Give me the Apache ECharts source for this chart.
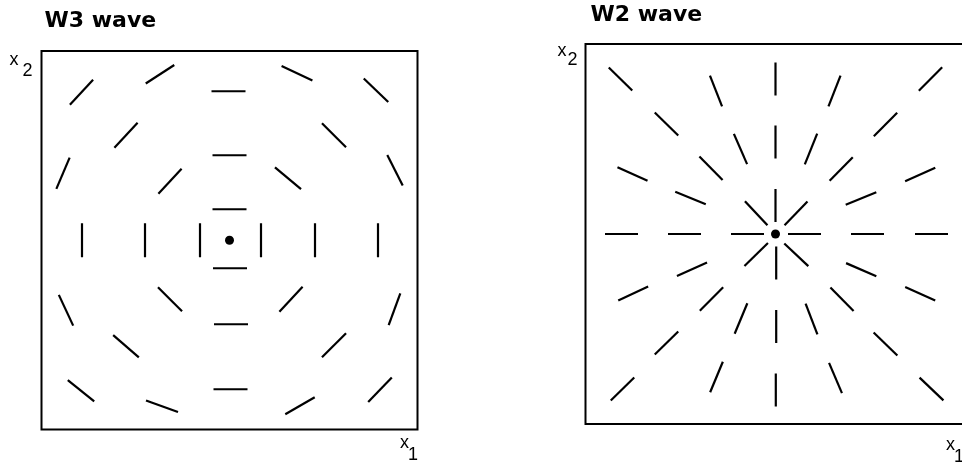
<!DOCTYPE html>
<html>
<head>
<meta charset="utf-8">
<script src="https://cdn.jsdelivr.net/npm/echarts@6/dist/echarts.min.js"></script>
<style>
  html, body { margin: 0; padding: 0; background: #fff; }
  #chart { width: 962px; height: 464px; }
</style>
</head>
<body>
<div id="chart"></div>
<script>
// W3 wave: tangential orientation segments (centre x1, x2, orientation in degrees)
const w3X = [-148, -69.5, -1, 67.5, 146.5, -103.5, 0, 104.5, -166.5, -59.5, 0, 58.5, 165.5,
             -147.5, -84.5, -29.5, 31.5, 85.5, 148.5,
             0.5, -163.5, -59.5, 61.5, 165, 1.5, -103.5, 104.5, -148.5, -67.5, 1, 70.5, 150.5];
const w3Y = [148, 166, 149, 167, 150, 105, 85, 105, 67, 59, 31, 62, 70,
             0, 0, 0, 0, 0, 0,
             -28, -70, -59, -59, -69, -84, -106, -105, -150.5, -166, -149, -165.5, -149.5];
const w3Angle = [47, 33, 0, -25, -44, 47, 0, -45, 67, 47, 0, -40, -63,
                 90, 90, 90, 90, 90, 90,
                 0, -65, -45, 47, 70, 0, -41, 45, -39, -20, 0, 30, 46];

// W2 wave: radial orientation segments
const w2X = [-155, -59.5, 0, 59, 155, -109, 0, 110, -35, 35.5, -143, -64.5, 65.7, 144.7,
             -85, 0, -19.3, 20.5, 85.5,
             -154, -91, -28, 29, 92, 156,
             -19.3, 20.8, 0.7, -83.5, 85.7, -142.3, -64, 66.5, 144.7, -34.5, 36, 0.7,
             -109, 110, -153, -59, 0.3, 60, 156];
const w2Y = [155, 143, 155, 143, 155, 110, 92, 109.5, 85, 85, 60, 65.7, 65, 59.5,
             36, 28.5, 20.8, 20.7, 35.5,
             0, 0, 0, 0, 0, 0,
             -20.5, -20.8, -29, -35.3, -35.7, -59.5, -65, -65.3, -59.7, -84.5, -85, -92.5,
             -109, -110, -155, -143, -156, -144, -155];
const w2Angle = [-44.6, -68.5, 90, 68.6, 45, -44.6, 90, 45, -66.4, 68, -24.4, -45.4, 45.4, 23.9,
                 -22.2, 90, -47, 46, 22,
                 0, 0, 0, 0, 0, 0,
                 44.6, -43.3, 90, 24.2, -23.5, 25, 45, -45.4, -24.4, 67.4, -69, 90,
                 44.6, -44, 44.6, 67.4, 90, -67, -43.7];

// Source point of each wave
const sourceX = [0];
const sourceY = [0];

const segLenW3 = 34;
const segLenW2 = 33;

function zipRows(xs, ys, as) {
  return xs.map((x, i) => [x, ys[i], as[i]]);
}

function segmentRenderer(len) {
  return function (params, api) {
    const x = api.value(0), y = api.value(1);
    const a = api.value(2) * Math.PI / 180;
    const h = len / 2;
    const p1 = api.coord([x - h * Math.cos(a), y - h * Math.sin(a)]);
    const p2 = api.coord([x + h * Math.cos(a), y + h * Math.sin(a)]);
    return {
      type: 'line',
      shape: { x1: p1[0], y1: p1[1], x2: p2[0], y2: p2[1] },
      style: { stroke: '#000', lineWidth: 2.2, lineCap: 'butt' }
    };
  };
}

const labelFont = '18px "Liberation Sans", Arial, sans-serif';
const titleFont = 'bold 22px "DejaVu Sans", sans-serif';

function txt(text, x, y, font) {
  return { type: 'text', x: x, y: y, style: { text: text, font: font, fill: '#000', verticalAlign: 'top' } };
}

const chart = echarts.init(document.getElementById('chart'), null, { renderer: 'canvas' });

const hiddenAxis = (min, max, gi) => ({
  type: 'value', min: min, max: max, gridIndex: gi, show: false, splitLine: { show: false }
});

chart.setOption({
  animation: false,
  backgroundColor: '#fff',
  grid: [
    { left: 41.5, top: 51, width: 376, height: 378.5, show: true, borderColor: '#000', borderWidth: 2,
      backgroundColor: 'transparent', outerBoundsMode: 'none', containLabel: false },
    { left: 585.5, top: 44, width: 380, height: 380, show: true, borderColor: '#000', borderWidth: 2,
      backgroundColor: 'transparent', outerBoundsMode: 'none', containLabel: false }
  ],
  xAxis: [hiddenAxis(-188, 188, 0), hiddenAxis(-190, 190, 1)],
  yAxis: [hiddenAxis(-189.25, 189.25, 0), hiddenAxis(-190, 190, 1)],
  series: [
    {
      type: 'custom', name: 'W3 wave', xAxisIndex: 0, yAxisIndex: 0,
      renderItem: segmentRenderer(segLenW3),
      data: zipRows(w3X, w3Y, w3Angle)
    },
    {
      type: 'custom', name: 'W2 wave', xAxisIndex: 1, yAxisIndex: 1,
      renderItem: segmentRenderer(segLenW2),
      data: zipRows(w2X, w2Y, w2Angle)
    },
    {
      type: 'scatter', xAxisIndex: 0, yAxisIndex: 0, symbolSize: 9,
      itemStyle: { color: '#000', opacity: 1 }, silent: true,
      data: sourceX.map((x, i) => [x, sourceY[i]])
    },
    {
      type: 'scatter', xAxisIndex: 1, yAxisIndex: 1, symbolSize: 9,
      itemStyle: { color: '#000', opacity: 1 }, silent: true,
      data: sourceX.map((x, i) => [x, sourceY[i]])
    }
  ],
  graphic: [
    txt('W3 wave', 44.5, 10, titleFont),
    txt('W2 wave', 590.5, 4, titleFont),
    txt('x', 9.5, 51.5, labelFont),
    txt('2', 22.5, 62.5, labelFont),
    txt('x', 400, 434, labelFont),
    txt('1', 408, 446.5, labelFont),
    txt('x', 557.5, 42.5, labelFont),
    txt('2', 567.5, 51.5, labelFont),
    txt('x', 946, 436, labelFont),
    txt('1', 954, 448.5, labelFont)
  ]
});
</script>
</body>
</html>
